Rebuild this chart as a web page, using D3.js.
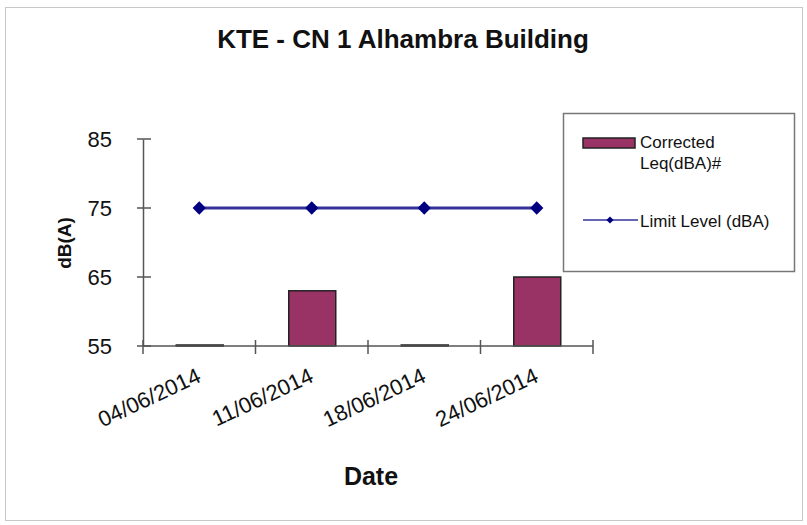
<!DOCTYPE html>
<html>
<head>
<script src="https://d3js.org/d3.v7.min.js"></script>
<style>
  body { margin: 0; background: #fff; }
  text { font-family: Arial, "Liberation Sans", sans-serif; fill: #111; }
</style>
</head>
<body>
<svg width="807" height="525"></svg>
<script>
// data
var dates = ["04/06/2014", "11/06/2014", "18/06/2014", "24/06/2014"];
var leqValues = [55, 63, 55, 65];
var limitValues = [75, 75, 75, 75];
var yTicks = [55, 65, 75, 85];

var svg = d3.select("svg");

// outer chart frame
svg.append("rect")
  .attr("x", 5.5).attr("y", 7.5)
  .attr("width", 797).attr("height", 513)
  .attr("fill", "#fff")
  .attr("stroke", "#c8c8c8");

var plotLeft = 143, plotRight = 593, plotTop = 139, plotBottom = 346;

var xc = d3.scalePoint().domain(dates).range([plotLeft, plotRight]).padding(0.5);
var y = d3.scaleLinear().domain([55, 85]).range([plotBottom, plotTop]);

// title
svg.append("text")
  .attr("x", 403).attr("y", 48)
  .attr("text-anchor", "middle")
  .style("font-size", "26px").style("font-weight", "bold")
  .text("KTE - CN 1 Alhambra Building");

// bars (values at the axis minimum still show as a flat dark line)
svg.append("g").selectAll("rect")
  .data(leqValues)
  .enter().append("rect")
  .attr("x", function(d, i) { return xc(dates[i]) - 23; })
  .attr("width", 47)
  .attr("y", function(d) { return Math.min(y(d), y(55) - 1); })
  .attr("height", function(d) { return Math.max(y(55) - y(d), 1); })
  .attr("fill", "#993366")
  .attr("stroke", "#222")
  .attr("stroke-width", 1.5);

// y axis
var yAxis = svg.append("g")
  .attr("transform", "translate(" + plotLeft + ",0)")
  .call(d3.axisLeft(y).tickValues(yTicks).tickSize(0).tickPadding(31));
yAxis.select(".domain").attr("stroke", "#555").attr("stroke-width", 1.5);
yAxis.selectAll("text")
  .style("font-size", "22px")
  .attr("fill", "#222")
  .attr("font-family", "Arial, Liberation Sans, sans-serif");
yAxis.selectAll(".tk").data(yTicks).enter().append("line")
  .attr("x1", -6).attr("x2", 8)
  .attr("y1", function(d) { return y(d); }).attr("y2", function(d) { return y(d); })
  .attr("stroke", "#555").attr("stroke-width", 1.5);

// x axis
var xAxis = svg.append("g")
  .attr("transform", "translate(0," + plotBottom + ")");
xAxis.append("line")
  .attr("x1", plotLeft).attr("x2", plotRight)
  .attr("stroke", "#555").attr("stroke-width", 1.5);
var bounds = [plotLeft].concat(dates.map(function(d) { return xc(d) + xc.step() / 2; }));
xAxis.selectAll(".tk").data(bounds).enter().append("line")
  .attr("x1", function(d) { return d; }).attr("x2", function(d) { return d; })
  .attr("y1", -6).attr("y2", 8)
  .attr("stroke", "#555").attr("stroke-width", 1.5);
xAxis.selectAll(".lbl").data(dates).enter().append("text")
  .attr("transform", function(d) { return "translate(" + (xc(d) + 3) + ",35) rotate(-25)"; })
  .attr("text-anchor", "end")
  .style("font-size", "22px")
  .attr("fill", "#222")
  .text(function(d) { return d; });

// limit line
var line = d3.line()
  .x(function(d, i) { return xc(dates[i]); })
  .y(function(d) { return y(d); });
svg.append("path")
  .datum(limitValues)
  .attr("d", line)
  .attr("fill", "none")
  .attr("stroke", "#333399")
  .attr("stroke-width", 3);
svg.append("g").selectAll("path")
  .data(limitValues)
  .enter().append("path")
  .attr("d", d3.symbol().type(d3.symbolSquare).size(88))
  .attr("transform", function(d, i) { return "translate(" + xc(dates[i]) + "," + y(d) + ") rotate(45)"; })
  .attr("fill", "#000080");

// axis titles
svg.append("text")
  .attr("transform", "translate(71,243) rotate(-90)")
  .attr("text-anchor", "middle")
  .style("font-size", "19px").style("font-weight", "bold")
  .text("dB(A)");
svg.append("text")
  .attr("x", 371).attr("y", 485)
  .attr("text-anchor", "middle")
  .style("font-size", "25px").style("font-weight", "bold")
  .text("Date");

// legend
var lg = svg.append("g");
lg.append("rect")
  .attr("x", 563.5).attr("y", 113.5)
  .attr("width", 231).attr("height", 158)
  .attr("fill", "#fff").attr("stroke", "#777").attr("stroke-width", 1.5);
lg.append("rect")
  .attr("x", 583).attr("y", 138).attr("width", 52).attr("height", 10)
  .attr("fill", "#993366").attr("stroke", "#222").attr("stroke-width", 1.5);
lg.append("text").attr("x", 640).attr("y", 148).style("font-size", "17px").attr("fill", "#333").text("Corrected");
lg.append("text").attr("x", 640).attr("y", 169).style("font-size", "17px").attr("fill", "#333").text("Leq(dBA)#");
lg.append("line")
  .attr("x1", 583).attr("x2", 638).attr("y1", 220).attr("y2", 220)
  .attr("stroke", "#333399").attr("stroke-width", 1.5);
lg.append("path")
  .attr("d", d3.symbol().type(d3.symbolSquare).size(26))
  .attr("transform", "translate(610,220) rotate(45)")
  .attr("fill", "#000080");
lg.append("text").attr("x", 640).attr("y", 227).style("font-size", "17px").attr("fill", "#333").text("Limit Level (dBA)");
</script>
</body>
</html>
